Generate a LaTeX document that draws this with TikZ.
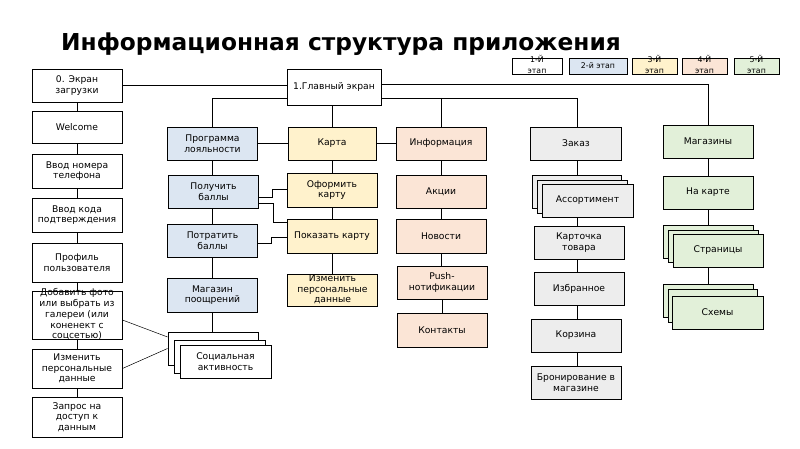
\documentclass[tikz,border=0pt]{standalone}
\usepackage{fontspec}
\setmainfont{DejaVu Sans}
\definecolor{cBlue}{HTML}{DCE6F2}
\definecolor{cYel}{HTML}{FFF2CC}
\definecolor{cPink}{HTML}{FBE5D6}
\definecolor{cGray}{HTML}{EDEDED}
\definecolor{cGreen}{HTML}{E2F0D9}
\newcommand{\ovt}[1]{\smash{\raisebox{-0.25em}{\begin{tabular}{@{}c@{}}#1\end{tabular}}}}
\begin{document}
\begin{tikzpicture}[x=1pt,y=-1pt,
  bx/.style={draw, line width=0.9pt, align=center, inner sep=1pt, fill=white,
     font=\fontsize{9.2}{10.6}\selectfont, minimum width=90pt, minimum height=33pt},
  blu/.style={bx, fill=cBlue},
  yel/.style={bx, fill=cYel},
  pnk/.style={bx, fill=cPink},
  gry/.style={bx, fill=cGray},
  grn/.style={bx, fill=cGreen},
  lg/.style={draw, line width=0.7pt, inner sep=0pt, minimum height=16pt,
     font=\fontsize{7.8}{11}\selectfont},
  conn/.style={line width=0.9pt},
  thinl/.style={line width=0.5pt}]
\useasboundingbox (0,0) rectangle (800,449);

% title
\node[font=\bfseries\fontsize{23.3}{28}\selectfont] (title) at (341,44) {Информационная структура приложения};

% legend
\node[lg, minimum width=50pt] (l1) at (537,66) {\ovt{1-Й\\этап}};
\node[lg, fill=cBlue, minimum width=58pt] (l2) at (598,66) {2-й этап};
\node[lg, fill=cYel, minimum width=45pt] (l3) at (654.5,66) {\ovt{3-Й\\этап}};
\node[lg, fill=cPink, minimum width=45pt] (l4) at (704.5,66) {\ovt{4-Й\\этап}};
\node[lg, fill=cGreen, minimum width=45pt] (l5) at (756.5,66) {\ovt{5-Й\\этап}};

% left column
\node[bx] (n0) at (77,85.5) {0. Экран\\загрузки};
\node[bx, minimum height=32pt] (nW) at (77,127) {Welcome};
\node[bx, minimum height=34pt] (nPh) at (77,171) {Ввод номера\\телефона};
\node[bx, minimum height=34pt] (nCode) at (77,215) {Ввод кода\\подтверждения};
\node[bx, minimum height=39pt] (nProf) at (77,262.5) {Профиль\\пользователя};
\node[bx, minimum height=48pt, font=\fontsize{9.2}{10.8}\selectfont] (nPhoto) at (77,315) {\ovt{Добавить фото\\или выбрать из\\галереи (или\\коненект с\\соцсетью)}};
\node[bx, minimum height=39pt] (nEdit) at (77,368.5) {Изменить\\персональные\\данные};
\node[bx, minimum height=40pt] (nReq) at (77,417) {Запрос на\\доступ к\\данным};

% main
\node[bx, minimum width=94pt, minimum height=36pt] (main) at (334,87) {1.Главный экран};

% blue column
\node[blu] (nLoy) at (212.5,143.5) {Программа\\лояльности};
\node[blu] (nGet) at (213.5,191.5) {Получить\\баллы};
\node[blu] (nSpend) at (212.5,240.5) {Потратить\\баллы};
\node[blu, minimum height=34pt] (nShop) at (212.5,295) {Магазин\\поощрений};
\node[bx] (socB) at (213,348.5) {};
\node[bx, minimum width=91pt] (socM) at (219.5,356.5) {};
\node[bx, minimum width=91pt] (socF) at (225.5,361.5) {Социальная\\активность};

% yellow column
\node[yel, minimum width=88pt] (nMap) at (332,143.5) {Карта};
\node[yel, minimum height=34pt] (nMake) at (332,190) {Оформить\\карту};
\node[yel, minimum height=34pt] (nShow) at (332,236) {Показать карту};
\node[yel, minimum height=32pt] (nEditY) at (332.5,290) {\ovt{Изменить\\персональные\\данные}};

% pink column
\node[pnk] (nInfo) at (441,143.5) {Информация};
\node[pnk] (nAct) at (441,191.5) {Акции};
\node[pnk, minimum height=34pt] (nNews) at (441,236) {Новости};
\node[pnk] (nPush) at (442,282.5) {Push-\\нотификации};
\node[pnk, minimum height=34pt] (nCont) at (442,330) {Контакты};

% gray column
\node[gry, minimum width=91pt] (nOrder) at (576,143.5) {Заказ};
\node[gry, minimum width=89pt] (aB) at (576.5,191.5) {};
\node[gry] (aM) at (582,196.5) {};
\node[gry, minimum width=91pt] (aF) at (587.5,200.5) {Ассортимент};
\node[gry] (nCard) at (579,242.5) {Карточка\\товара};
\node[gry] (nFav) at (579,288.5) {Избранное};
\node[gry] (nCart) at (576,335.5) {Корзина};
\node[gry] (nBook) at (576,382.5) {Бронирование в\\магазине};

% green column
\node[grn] (nShops) at (708,141.5) {Магазины};
\node[grn] (nOnMap) at (708,192.5) {На карте};
\node[grn] (pB) at (708,241.5) {};
\node[grn, minimum height=32pt] (pM) at (713,246) {};
\node[grn] (pF) at (718,250.5) {Страницы};
\node[grn] (sB) at (708,300.5) {};
\node[grn, minimum width=89pt] (sM) at (712.5,305.5) {};
\node[grn, minimum width=91pt] (sF) at (717.5,312.5) {Схемы};

% column guide coordinates
\coordinate (gx) at (577,0);

% connectors
\draw[conn] (n0) -- (nW) -- (nPh) -- (nCode) -- (nProf) -- (nPhoto) -- (nEdit) -- (nReq);
\draw[conn] (n0.east) -- (n0.east -| main.west);
\draw[conn] ([yshift=3pt]main.east) -| (nShops.north);
\draw[conn] ([yshift=-11pt]main.west) -| (nLoy.north);
\draw[conn] ([yshift=-11pt]main.east) -| (nOrder.north -| gx);
\draw[conn] ([yshift=-11pt]main.east -| nInfo.north) -- (nInfo.north);
\draw[conn] (main.south -| nMap) -- (nMap);
\draw[conn] (nLoy.east) -- (nMap.west |- nLoy.east);
\draw[conn] (nMap.east) -- (nInfo.west |- nMap.east);

% blue chain
\draw[conn] (nLoy.south) -- (nGet.north -| nLoy.south);
\draw[conn] (nGet.south -| nLoy.south) -- (nSpend.north);
\draw[conn] (nSpend) -- (nShop);
\draw[conn] (nShop.south) -- (nShop.south |- socB.north);
% photo/edit to social
\draw[thinl] ([yshift=-5pt]nPhoto.east) -- ([yshift=11.5pt]socB.west);
\draw[thinl] (nEdit.east) -- (socB.west);

% yellow chain
\draw[conn] (nMap) -- (nMake) -- (nShow);
\draw[conn] (nShow.south) -- (nShow.south |- nEditY.north);
% elbows blue -> yellow
\draw[conn] ([yshift=-5.5pt]nGet.east) -- ++(13,0) |- ([yshift=1pt]nMake.west);
\draw[conn] ([yshift=-11.5pt]nGet.east) -- ++(14,0) |- ([yshift=14pt]nShow.west);
\draw[conn] ([yshift=-2.5pt]nSpend.east) -- ++(13,0) |- ([yshift=-1pt]nShow.west);

% pink chain
\draw[conn] (nInfo) -- (nAct) -- (nNews);
\draw[conn] (nNews.south) -- (nNews.south |- nPush.north);
\draw[conn] (nPush.south) -- (nPush.south |- nCont.north);

% gray chain
\draw[conn] (nOrder.south -| gx) -- (aB.north -| gx);
\draw[conn] (aF.south -| gx) -- (nCard.north -| gx);
\draw[conn] (nCard.south -| gx) -- (nFav.north -| gx);
\draw[conn] (nFav.south -| gx) -- (nCart.north -| gx);
\draw[conn] (nCart.south -| gx) -- (nBook.north -| gx);

% green chain
\draw[conn] (nShops) -- (nOnMap);
\draw[conn] (nOnMap) -- (pB);
\draw[conn] (pF.south -| nShops) -- (sB.north);
\end{tikzpicture}
\end{document}
